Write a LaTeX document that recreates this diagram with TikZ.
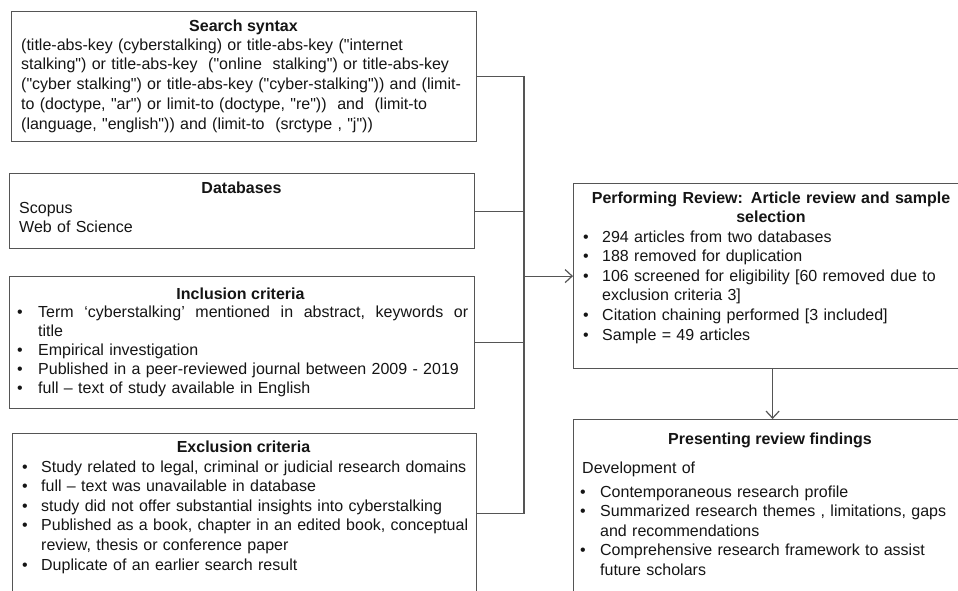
\documentclass[tikz,border=0pt]{standalone}
\usepackage{fontspec}
\setmainfont{Liberation Sans}
\newfontfamily\arial{Liberation Sans}
\usetikzlibrary{arrows.meta}
\definecolor{ink}{HTML}{151515}
\definecolor{edge}{HTML}{555555}
\newlength\bw
\newcommand\fitem{\noindent\hangindent\bw\hangafter1\strut\makebox[\bw][l]{\textbullet}}
\newcommand\bitem{\par\fitem}
\newcommand\nl{\hfil\break}
\def\mybls{19.6}
\tikzset{
  bls/.code={\def\mybls{#1}},
  box/.style={draw=edge, line width=1.2pt, anchor=north west, inner sep=0pt},
  ttl/.style={font=\arial\fontsize{16}{19.6}\selectfont\bfseries, text=ink, inner sep=0pt, anchor=base},
  body/.style={font=\arial\fontsize{16}{\mybls}\selectfont, text=ink, inner sep=0pt, anchor=base west, align=left, text width=#1},
  body/.default=460pt,
  link/.style={draw=edge, line width=1.2pt},
  arr/.style={link, -{Straight Barb[length=7pt,width=13pt]}}
}
\begin{document}
\begin{tikzpicture}[x=1pt,y=-1pt]
\clip (0,0) rectangle (958,590);
\fill[white] (0,0) rectangle (958,590);
% boxes
\node[box, minimum width=465pt, minimum height=130pt] (search) at (11,11) {};
\node[box, minimum width=465pt, minimum height=75pt] (db) at (9,173) {};
\node[box, minimum width=465pt, minimum height=132pt] (incl) at (9,276) {};
\node[box, minimum width=464pt, minimum height=160pt] (excl) at (12,433) {};
\node[box, minimum width=398pt, minimum height=185pt] (review) at (573,183) {};
\node[box, minimum width=398pt, minimum height=180pt] (find) at (573,419) {};
% titles
\node[ttl] (searchT) at (243.5,31) {Search syntax};
\node[ttl] (dbT) at (241.5,193) {Databases};
\node[ttl] (inclT) at (240.5,299) {Inclusion criteria};
\node[ttl] (exclT) at (243.5,452) {Exclusion criteria};
\node[ttl, text width=380pt, align=center] (reviewT) at (771,203) {Performing Review: Article review and sample\\selection};
\node[ttl] (findT) at (770,444) {Presenting review findings};
% bodies
\node[body, bls=19.75] (searchB) at (21,50) {\noindent\strut(title-abs-key (cyberstalking) or title-abs-key ("internet\nl
stalking") or title-abs-key\ \ ("online\ \ stalking") or title-abs-key\nl
("cyber stalking") or title-abs-key ("cyber-stalking")) and (limit-\nl
to (doctype, "ar") or limit-to (doctype, "re"))\ \ and\ \ (limit-to\nl
(language, "english")) and (limit-to\ \ (srctype , "j"))\par};
\node[body] (dbB) at (19,213) {\noindent\strut Scopus\nl Web of Science\par};
\node[body, bls=19.1] (inclB) at (17,317) {\setlength\bw{21pt}%
\fitem \hbox to 430pt{Term\hfill ‘cyberstalking’\hfill mentioned\hfill in\hfill abstract,\hfill keywords\hfill or}\nl title
\bitem Empirical investigation
\bitem Published in a peer-reviewed journal between 2009 - 2019
\bitem full – text of study available in English\par};
\node[body] (exclB) at (22,472) {\setlength\bw{19pt}%
\fitem Study related to legal, criminal or judicial research domains
\bitem full – text was unavailable in database
\bitem study did not offer substantial insights into cyberstalking
\bitem Published as a book, chapter in an edited book, conceptual\nl review, thesis or conference paper
\bitem Duplicate of an earlier search result\par};
\node[body=370pt] (reviewB) at (583,242) {\setlength\bw{19pt}%
\fitem 294 articles from two databases
\bitem 188 removed for duplication
\bitem 106 screened for eligibility [60 removed due to\nl exclusion criteria 3]
\bitem Citation chaining performed [3 included]
\bitem Sample = 49 articles\par};
\node[body=370pt] (findD) at (582,473) {\noindent\strut Development of\par};
\node[body=370pt] (findB) at (580,497) {\setlength\bw{20pt}%
\fitem Contemporaneous research profile
\bitem Summarized research themes , limitations, gaps\nl and recommendations
\bitem Comprehensive research framework to assist\nl future scholars\par};
% connectors
\coordinate (trunk) at (524,0);
\draw[link] (search.east) -- (search.east -| trunk) -- (excl.east -| trunk) -- (excl.east);
\draw[link] (db.east) -- (db.east -| trunk);
\draw[link] (incl.east) -- (incl.east -| trunk);
\draw[arr] (review.west -| trunk) -- (review.west);
\draw[arr] (review.south) -- (find.north);
\end{tikzpicture}
\end{document}
